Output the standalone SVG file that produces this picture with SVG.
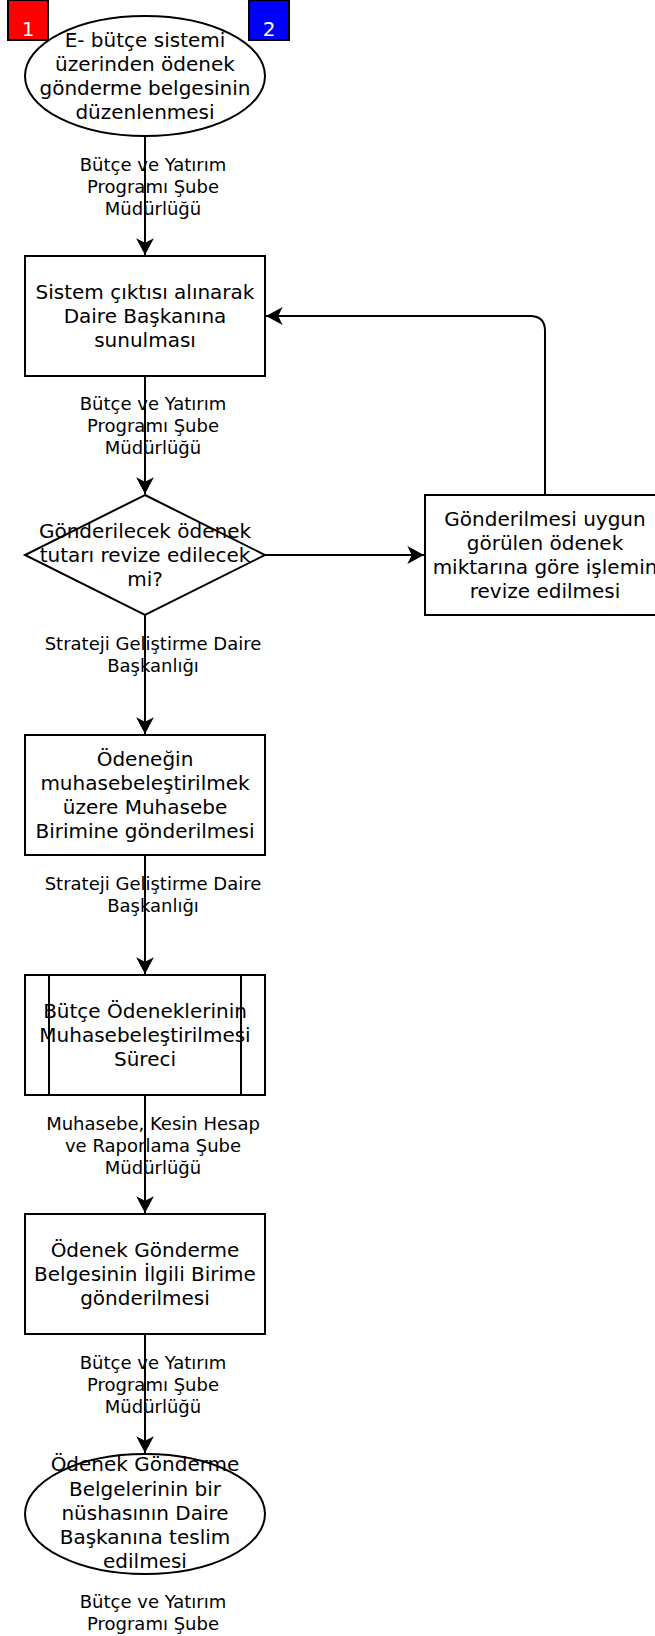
<svg xmlns="http://www.w3.org/2000/svg" width="655" height="1636" viewBox="0 0 655 1636">
<style>
.shape{fill:#fff;stroke:#000;stroke-width:2}
.t{font-family:"DejaVu Sans",sans-serif;font-size:20px;fill:#000;text-anchor:middle}
.l{font-family:"DejaVu Sans",sans-serif;font-size:18px;fill:#000;text-anchor:middle}
.n{font-family:"DejaVu Sans",sans-serif;font-size:20px;fill:#fff;text-anchor:middle}
.c{fill:none;stroke:#000;stroke-width:2}
</style>
<defs>
<marker id="arr" markerUnits="userSpaceOnUse" markerWidth="20" markerHeight="20" viewBox="-16 -9 18 18" refX="0" refY="0" orient="auto">
<path d="M0,0 L-15,-8 L-11,0 L-15,8 Z" fill="#000"/>
</marker>
</defs>
<rect width="655" height="1636" fill="#fff"/>
<g id="connectors">
<path class="c" d="M145,137 V255" marker-end="url(#arr)"/>
<path class="c" d="M145,376 V494" marker-end="url(#arr)"/>
<path class="c" d="M265,555 H424" marker-end="url(#arr)"/>
<path class="c" d="M545,495 V331 Q545,316 530,316 H266" marker-end="url(#arr)"/>
<path class="c" d="M145,615 V734" marker-end="url(#arr)"/>
<path class="c" d="M145,855 V974" marker-end="url(#arr)"/>
<path class="c" d="M145,1095 V1213" marker-end="url(#arr)"/>
<path class="c" d="M145,1334 V1453" marker-end="url(#arr)"/>
</g>
<g id="labels">
<text class="l" x="153" y="171">Bütçe ve Yatırım</text>
<text class="l" x="153" y="193">Programı Şube</text>
<text class="l" x="153" y="215">Müdürlüğü</text>
<text class="l" x="153" y="410">Bütçe ve Yatırım</text>
<text class="l" x="153" y="432">Programı Şube</text>
<text class="l" x="153" y="454">Müdürlüğü</text>
<text class="l" x="153" y="650">Strateji Geliştirme Daire</text>
<text class="l" x="153" y="672">Başkanlığı</text>
<text class="l" x="153" y="890">Strateji Geliştirme Daire</text>
<text class="l" x="153" y="912">Başkanlığı</text>
<text class="l" x="153" y="1130">Muhasebe, Kesin Hesap</text>
<text class="l" x="153" y="1152">ve Raporlama Şube</text>
<text class="l" x="153" y="1174">Müdürlüğü</text>
<text class="l" x="153" y="1369">Bütçe ve Yatırım</text>
<text class="l" x="153" y="1391">Programı Şube</text>
<text class="l" x="153" y="1413">Müdürlüğü</text>
<text class="l" x="153" y="1608">Bütçe ve Yatırım</text>
<text class="l" x="153" y="1630">Programı Şube</text>
</g>
<g id="start">
<ellipse class="shape" cx="145" cy="76" rx="120" ry="60"/>
<text class="t" x="145" y="47">E- bütçe sistemi</text>
<text class="t" x="145" y="71">üzerinden ödenek</text>
<text class="t" x="145" y="95">gönderme belgesinin</text>
<text class="t" x="145" y="119">düzenlenmesi</text>
</g>
<g id="badge1">
<rect x="8" y="0" width="40" height="40" fill="#ff0000" stroke="#000" stroke-width="2"/>
<text class="n" x="28" y="36">1</text>
</g>
<g id="badge2">
<rect x="249" y="0" width="40" height="40" fill="#0000ff" stroke="#000" stroke-width="2"/>
<text class="n" x="269" y="36">2</text>
</g>
<g id="box2">
<rect class="shape" x="25" y="256" width="240" height="120"/>
<text class="t" x="145" y="299">Sistem çıktısı alınarak</text>
<text class="t" x="145" y="323">Daire Başkanına</text>
<text class="t" x="145" y="347">sunulması</text>
</g>
<g id="decision">
<path class="shape" d="M145,495 L265,555 L145,615 L25,555 Z"/>
<text class="t" x="145" y="538">Gönderilecek ödenek</text>
<text class="t" x="145" y="562">tutarı revize edilecek</text>
<text class="t" x="145" y="586">mi?</text>
</g>
<g id="revise">
<rect class="shape" x="425" y="495" width="240" height="120"/>
<text class="t" x="545" y="526">Gönderilmesi uygun</text>
<text class="t" x="545" y="550">görülen ödenek</text>
<text class="t" x="545" y="574">miktarına göre işlemin</text>
<text class="t" x="545" y="598">revize edilmesi</text>
</g>
<g id="box3">
<rect class="shape" x="25" y="735" width="240" height="120"/>
<text class="t" x="145" y="766">Ödeneğin</text>
<text class="t" x="145" y="790">muhasebeleştirilmek</text>
<text class="t" x="145" y="814">üzere Muhasebe</text>
<text class="t" x="145" y="838">Birimine gönderilmesi</text>
</g>
<g id="subprocess">
<rect class="shape" x="25" y="975" width="240" height="120"/>
<line x1="49" y1="975" x2="49" y2="1095" stroke="#000" stroke-width="2"/>
<line x1="241" y1="975" x2="241" y2="1095" stroke="#000" stroke-width="2"/>
<text class="t" x="145" y="1018">Bütçe Ödeneklerinin</text>
<text class="t" x="145" y="1042">Muhasebeleştirilmesi</text>
<text class="t" x="145" y="1066">Süreci</text>
</g>
<g id="box5">
<rect class="shape" x="25" y="1214" width="240" height="120"/>
<text class="t" x="145" y="1257">Ödenek Gönderme</text>
<text class="t" x="145" y="1281">Belgesinin İlgili Birime</text>
<text class="t" x="145" y="1305">gönderilmesi</text>
</g>
<g id="end">
<ellipse class="shape" cx="145" cy="1514" rx="120" ry="60"/>
<text class="t" x="145" y="1471">Ödenek Gönderme</text>
<text class="t" x="145" y="1496">Belgelerinin bir</text>
<text class="t" x="145" y="1520">nüshasının Daire</text>
<text class="t" x="145" y="1544">Başkanına teslim</text>
<text class="t" x="145" y="1568">edilmesi</text>
</g>
</svg>
